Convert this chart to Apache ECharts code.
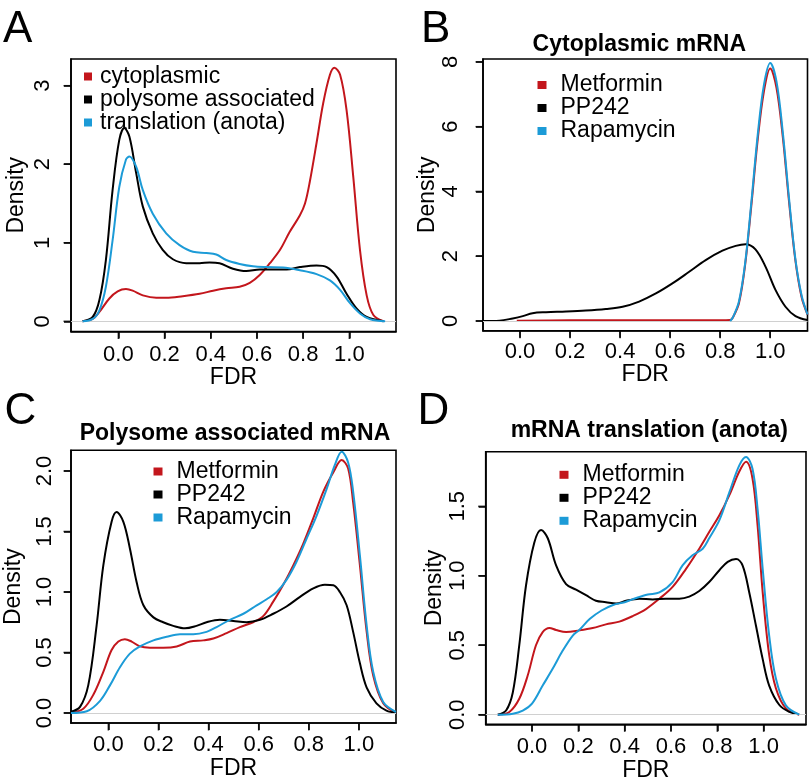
<!DOCTYPE html>
<html><head><meta charset="utf-8">
<script src="https://cdn.jsdelivr.net/npm/echarts@6/dist/echarts.min.js"></script>
<style>html,body{margin:0;padding:0;background:#fff}#c{width:812px;height:784px}</style>
</head><body><div id="c"></div>
<script>
// ---------- Tick labels ----------
const fdrTicks = [0, 0.2, 0.4, 0.6, 0.8, 1.0];
const aYTicks = [0, 1, 2, 3];
const bYTicks = [0, 2, 4, 6, 8];
const cYTicks = [0, 0.5, 1.0, 1.5, 2.0];
const dYTicks = [0, 0.5, 1.0, 1.5];

// ---------- Panel A ----------
const aCytoX = [-0.155,-0.111,-0.082,-0.039,-0.003,0.033,0.062,0.106,0.164,0.207,0.279,0.352,0.41,0.467,0.525,0.569,0.612,0.656,0.70,0.742,0.786,0.808,0.829,0.858,0.887,0.916,0.935,0.96,0.988,1.017,1.046,1.075,1.104,1.148];
const aCytoY = [0,0.03,0.12,0.29,0.38,0.41,0.39,0.33,0.30,0.30,0.32,0.35,0.39,0.42,0.44,0.49,0.59,0.74,0.91,1.14,1.35,1.50,1.78,2.27,2.78,3.14,3.23,3.14,2.69,1.84,0.91,0.33,0.08,0];
const aPolyX = [-0.155,-0.111,-0.082,-0.054,-0.025,0.004,0.026,0.048,0.077,0.106,0.149,0.192,0.236,0.294,0.352,0.395,0.438,0.496,0.554,0.612,0.67,0.728,0.786,0.858,0.902,0.945,0.988,1.032,1.075,1.148];
const aPolyY = [0,0.055,0.27,0.78,1.67,2.31,2.46,2.35,1.89,1.46,1.12,0.91,0.79,0.74,0.74,0.75,0.74,0.67,0.64,0.66,0.66,0.66,0.69,0.71,0.69,0.57,0.35,0.16,0.055,0];
const aTransX = [-0.155,-0.111,-0.082,-0.054,-0.025,0.004,0.033,0.048,0.077,0.106,0.149,0.207,0.265,0.323,0.381,0.424,0.467,0.525,0.583,0.641,0.713,0.786,0.858,0.916,0.96,1.003,1.046,1.09,1.155];
const aTransY = [0,0.03,0.14,0.44,1.03,1.71,2.06,2.10,1.97,1.67,1.37,1.12,0.97,0.885,0.87,0.85,0.78,0.73,0.70,0.69,0.685,0.65,0.60,0.52,0.40,0.23,0.10,0.025,0];

// ---------- Panel B : Cytoplasmic mRNA ----------
const bMetX = [-0.013,0.2,0.4,0.6,0.8,0.84,0.85,0.875,0.9,0.925,0.95,0.975,1.0,1.025,1.05,1.075,1.1,1.125,1.149];
const bMetY = [0.01,0.02,0.02,0.02,0.02,0.03,0.1,0.55,1.75,3.6,5.6,7.1,7.8,7.2,5.7,3.7,1.9,0.75,0.2];
const bPPX = [-0.149,-0.082,-0.029,0.011,0.05,0.104,0.184,0.263,0.343,0.41,0.476,0.543,0.609,0.676,0.742,0.809,0.862,0.902,0.941,0.981,1.021,1.061,1.101,1.149];
const bPPY = [0,0.01,0.08,0.15,0.24,0.27,0.29,0.32,0.37,0.44,0.60,0.85,1.16,1.52,1.88,2.17,2.32,2.37,2.21,1.68,0.96,0.44,0.15,0.03];
const bRapX = [0.84,0.85,0.875,0.9,0.925,0.95,0.975,1.0,1.025,1.05,1.075,1.1,1.125,1.149];
const bRapY = [0,0.1,0.6,1.8,3.7,5.75,7.3,7.97,7.4,5.85,3.8,1.95,0.8,0.2];

// ---------- Panel C : Polysome associated mRNA ----------
const cMetX = [-0.149,-0.1,-0.06,-0.02,0.013,0.04,0.066,0.093,0.126,0.166,0.219,0.273,0.326,0.379,0.419,0.472,0.525,0.578,0.618,0.658,0.698,0.738,0.778,0.818,0.858,0.898,0.931,0.957,0.977,1.004,1.031,1.057,1.097,1.148];
const cMetY = [0,0.035,0.15,0.34,0.52,0.59,0.61,0.59,0.55,0.54,0.54,0.55,0.59,0.60,0.615,0.66,0.71,0.75,0.80,0.92,1.06,1.22,1.40,1.61,1.83,1.99,2.09,2.02,1.74,1.22,0.67,0.31,0.08,0];
const cPPX = [-0.149,-0.113,-0.08,-0.047,-0.02,0.013,0.033,0.06,0.086,0.113,0.14,0.18,0.219,0.259,0.306,0.352,0.392,0.445,0.499,0.552,0.605,0.658,0.711,0.765,0.818,0.864,0.898,0.924,0.951,0.977,1.004,1.031,1.07,1.11,1.148];
const cPPY = [0.01,0.05,0.23,0.72,1.22,1.58,1.66,1.58,1.36,1.08,0.89,0.79,0.75,0.72,0.70,0.72,0.75,0.77,0.76,0.75,0.77,0.82,0.88,0.96,1.03,1.06,1.055,1.0,0.89,0.67,0.41,0.21,0.08,0.02,0.003];
const cRapX = [-0.149,-0.086,-0.033,0.007,0.047,0.086,0.126,0.18,0.233,0.286,0.339,0.392,0.432,0.485,0.539,0.592,0.632,0.672,0.711,0.751,0.791,0.831,0.871,0.904,0.931,0.957,0.977,1.004,1.031,1.057,1.097,1.148];
const cRapY = [0,0.014,0.10,0.23,0.38,0.49,0.55,0.60,0.63,0.65,0.65,0.67,0.71,0.77,0.82,0.89,0.94,1.0,1.10,1.25,1.44,1.63,1.85,2.05,2.16,2.07,1.83,1.30,0.72,0.34,0.09,0.008];

// ---------- Panel D : mRNA translation (anota) ----------
const dMetX = [-0.148,-0.098,-0.055,-0.019,0.017,0.046,0.075,0.104,0.147,0.204,0.262,0.319,0.377,0.435,0.492,0.55,0.607,0.665,0.722,0.765,0.809,0.852,0.895,0.924,0.952,0.974,0.996,1.024,1.053,1.096,1.154];
const dMetY = [0,0.02,0.115,0.28,0.50,0.595,0.625,0.61,0.595,0.607,0.624,0.65,0.67,0.71,0.76,0.835,0.92,1.05,1.195,1.315,1.435,1.58,1.75,1.82,1.70,1.36,0.88,0.43,0.19,0.045,0];
const dPPX = [-0.148,-0.112,-0.083,-0.055,-0.026,0.01,0.039,0.068,0.104,0.147,0.19,0.233,0.276,0.319,0.363,0.406,0.463,0.521,0.578,0.636,0.679,0.722,0.765,0.809,0.845,0.881,0.909,0.938,0.967,0.996,1.024,1.068,1.111,1.147];
const dPPY = [0,0.03,0.16,0.50,0.93,1.24,1.33,1.27,1.075,0.94,0.90,0.86,0.82,0.81,0.80,0.82,0.835,0.83,0.835,0.835,0.85,0.89,0.955,1.04,1.10,1.12,1.075,0.88,0.64,0.40,0.21,0.07,0.02,0.005];
const dRapX = [-0.148,-0.083,-0.04,0.0,0.046,0.089,0.132,0.176,0.204,0.25,0.3,0.35,0.4,0.45,0.5,0.55,0.607,0.65,0.693,0.737,0.765,0.809,0.852,0.895,0.924,0.952,0.974,0.996,1.024,1.053,1.096,1.154];
const dRapY = [0,0.007,0.03,0.08,0.21,0.33,0.46,0.57,0.61,0.69,0.75,0.79,0.81,0.84,0.865,0.88,0.955,1.075,1.147,1.195,1.27,1.40,1.60,1.795,1.855,1.77,1.48,1.05,0.57,0.26,0.067,0];

// ---------- Names ----------
const legendA = ['cytoplasmic', 'polysome associated', 'translation (anota)'];
const legendDrug = ['Metformin', 'PP242', 'Rapamycin'];
const titles = ['Cytoplasmic mRNA', 'Polysome associated mRNA', 'mRNA translation (anota)'];

// ---------- Rendering ----------
const FONT = "'Liberation Sans', Arial, Helvetica, sans-serif";
const RED = '#c3161c', BLACK = '#000000', BLUE = '#1c9bd7';
const zip = (xs, ys) => xs.map((x, i) => [x, ys[i]]);

const panels = [
  { grid: {left: 71, top: 59, width: 325, height: 272.5}, xMin: -0.205, xMax: 1.202, yMin: -0.13, yMax: 3.34,
    yTicks: aYTicks, yFmt: v => String(v), yMargin: 17, yNameGap: 43, xMargin: 12, xNameGap: 26,
    names: legendA, xs: [aCytoX, aPolyX, aTransX], ys: [aCytoY, aPolyY, aTransY] },
  { grid: {left: 483, top: 59, width: 324.5, height: 271.7}, xMin: -0.148, xMax: 1.149, yMin: -0.30, yMax: 8.09,
    yTicks: bYTicks, yFmt: v => String(v), yMargin: 21, yNameGap: 38, xMargin: 10, xNameGap: 29,
    names: legendDrug, xs: [bMetX, bPPX, bRapX], ys: [bMetY, bPPY, bRapY] },
  { grid: {left: 71, top: 450.3, width: 325, height: 272.7}, xMin: -0.149, xMax: 1.148, yMin: -0.083, yMax: 2.171,
    yTicks: cYTicks, yFmt: v => v.toFixed(1), yMargin: 15, yNameGap: 46, xMargin: 11, xNameGap: 29,
    names: legendDrug, xs: [cMetX, cPPX, cRapX], ys: [cMetY, cPPY, cRapY] },
  { grid: {left: 485.7, top: 451.7, width: 320.3, height: 272.6}, xMin: -0.200, xMax: 1.183, yMin: -0.069, yMax: 1.893,
    yTicks: dYTicks, yFmt: v => v.toFixed(1), yMargin: 17, yNameGap: 40, xMargin: 12, xNameGap: 26,
    names: legendDrug, xs: [dMetX, dPPX, dRapX], ys: [dMetY, dPPY, dRapY] }
];

const colors = [RED, BLACK, BLUE];
const TICK_LEN = 7, TICK_W = 1.5;
const grid = [], xAxis = [], yAxis = [], series = [];
panels.forEach((p, i) => {
  grid.push(Object.assign({show: true, borderColor: '#000', borderWidth: 1.6}, p.grid));
  xAxis.push({
    type: 'value', gridIndex: i, min: p.xMin, max: p.xMax,
    axisLine: {show: true, onZero: false, lineStyle: {color: '#000', width: 1.6}}, splitLine: {show: false},
    axisTick: {show: true, length: TICK_LEN, lineStyle: {color: '#000', width: TICK_W}, customValues: fdrTicks},
    axisLabel: {customValues: fdrTicks, formatter: v => v.toFixed(1), fontSize: 22, color: '#000', fontFamily: FONT, margin: p.xMargin},
    name: 'FDR', nameLocation: 'middle', nameGap: p.xNameGap,
    nameTextStyle: {fontSize: 23, color: '#000', fontFamily: FONT}
  });
  yAxis.push({
    type: 'value', gridIndex: i, min: p.yMin, max: p.yMax,
    axisLine: {show: true, onZero: false, lineStyle: {color: '#000', width: 1.6}}, splitLine: {show: false},
    axisTick: {show: true, length: TICK_LEN, lineStyle: {color: '#000', width: TICK_W}, customValues: p.yTicks},
    axisLabel: {customValues: p.yTicks, formatter: p.yFmt, rotate: 90, fontSize: 22, color: '#000', fontFamily: FONT, margin: p.yMargin},
    name: 'Density', nameLocation: 'middle', nameRotate: 90, nameGap: p.yNameGap,
    nameTextStyle: {fontSize: 23, color: '#000', fontFamily: FONT}
  });
  p.names.forEach((nm, k) => {
    const s = {
      type: 'line', name: nm, xAxisIndex: i, yAxisIndex: i,
      data: zip(p.xs[k], p.ys[k]), showSymbol: false, symbol: 'none', smooth: 0.35,
      color: colors[k], lineStyle: {color: colors[k], width: 2}, z: 3 + k, silent: true
    };
    if (k === 0) {
      s.markLine = {silent: true, symbol: 'none', label: {show: false}, animation: false,
        lineStyle: {color: '#d0d0d0', width: 1, type: 'solid'}, data: [{yAxis: 0}]};
    }
    series.push(s);
  });
  // outward tick marks, placed through the panel's own scales at the tick values
  series.push({
    type: 'scatter', name: '_xticks' + i, xAxisIndex: i, yAxisIndex: i,
    data: fdrTicks.map(v => [v, p.yMin]), symbol: 'rect', symbolSize: [TICK_W, TICK_LEN],
    symbolOffset: [0, TICK_LEN / 2 + 0.5], itemStyle: {color: '#000'}, clip: false, silent: true, z: 8
  });
  series.push({
    type: 'scatter', name: '_yticks' + i, xAxisIndex: i, yAxisIndex: i,
    data: p.yTicks.map(v => [p.xMin, v]), symbol: 'rect', symbolSize: [TICK_LEN, TICK_W],
    symbolOffset: [-(TICK_LEN / 2 + 0.5), 0], itemStyle: {color: '#000'}, clip: false, silent: true, z: 8
  });
});

const legendBase = {orient: 'vertical', icon: 'rect', itemGap: 0, padding: 0, selectedMode: false};
const legend = [
  Object.assign({}, legendBase, {data: legendA, left: 84, top: 65, itemWidth: 8, itemHeight: 8,
    textStyle: {fontSize: 23, lineHeight: 22, color: '#000', fontFamily: FONT, padding: [0, 0, 0, 3]}}),
  Object.assign({}, legendBase, {data: legendDrug, left: 537.5, top: 73.5, itemWidth: 9, itemHeight: 8,
    textStyle: {fontSize: 23, lineHeight: 22, color: '#000', fontFamily: FONT, padding: [0, 0, 0, 9]}}),
  Object.assign({}, legendBase, {data: legendDrug, left: 153.5, top: 460, itemWidth: 9, itemHeight: 8,
    textStyle: {fontSize: 23, lineHeight: 22, color: '#000', fontFamily: FONT, padding: [0, 0, 0, 9]}}),
  Object.assign({}, legendBase, {data: legendDrug, left: 559.5, top: 463.3, itemWidth: 9, itemHeight: 8,
    textStyle: {fontSize: 23, lineHeight: 22, color: '#000', fontFamily: FONT, padding: [0, 0, 0, 9]}})
];

function txt(text, x, y, size, weight, align) {
  return {type: 'text', x: x, y: y, silent: true, z: 10,
    style: {text: text, fill: '#000', fontSize: size, fontWeight: weight, fontFamily: FONT,
      align: align, textAlign: align, verticalAlign: 'middle', textVerticalAlign: 'middle'}};
}
const graphic = [
  txt('A', 3, 29.5, 44, 'normal', 'left'),
  txt('B', 421, 29.5, 44, 'normal', 'left'),
  txt('C', 4.5, 411.5, 44, 'normal', 'left'),
  txt('D', 417.5, 411.5, 44, 'normal', 'left'),
  txt(titles[0], 639.3, 44.5, 23, 'bold', 'center'),
  txt(titles[1], 235, 434, 23, 'bold', 'center'),
  txt(titles[2], 649.3, 430.5, 23, 'bold', 'center')
];

const chart = echarts.init(document.getElementById('c'), null, {renderer: 'canvas'});
chart.setOption({
  animation: false, backgroundColor: '#fff',
  textStyle: {fontFamily: FONT},
  grid, xAxis, yAxis, series, legend, graphic
});
</script></body></html>
